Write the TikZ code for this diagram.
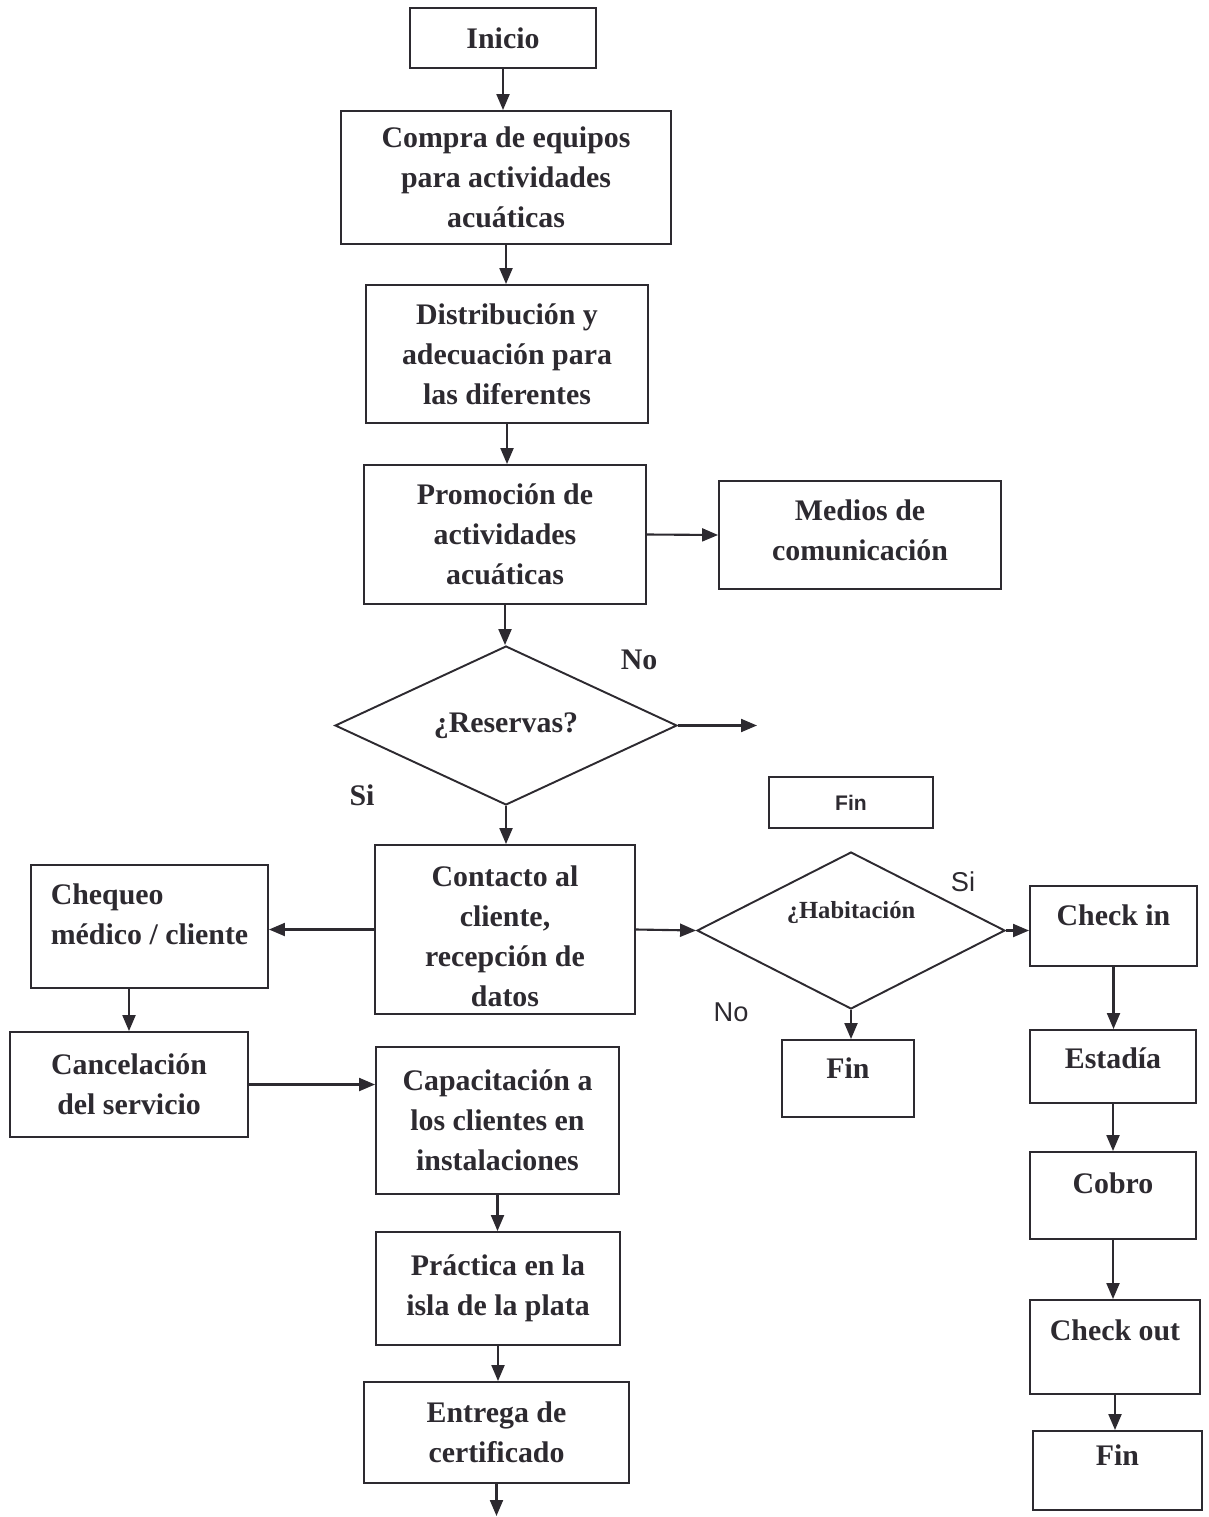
\documentclass[tikz,border=0pt]{standalone}
\usepackage{fontspec}
\setmainfont{Liberation Serif}
\setsansfont{Liberation Sans}
\usetikzlibrary{shapes.geometric,arrows.meta}
\definecolor{tinta}{RGB}{45,42,48}
\newcommand{\caja}[6][]{\node[caja, minimum width=#4, minimum height=#5, #1] (#2) at (#3) {#6};}
\newcommand{\flecha}[2]{\draw[flecha] (#1)--(#2);}

\begin{document}
\begin{tikzpicture}[x=0.02cm, y=-0.02cm,
  caja/.style={draw=tinta, line width=1.1pt, rectangle, align=center, inner sep=0pt,
    text=tinta, font=\bfseries\fontsize{17pt}{22.76pt}\selectfont},
  rombo/.style={caja, diamond},
  alto/.style={text height=0.4cm, text depth=#1},
  flecha/.style={draw=tinta, line width=1.2pt, -{Triangle[length=0.32cm,width=0.26cm]}},
  etq/.style={text=tinta, font=\bfseries\fontsize{17pt}{22.76pt}\selectfont},
  etqs/.style={text=tinta, font=\sffamily\fontsize{15.5pt}{18pt}\selectfont}]
  \useasboundingbox (0,0) rectangle (1209,1517);

  % Main column
  % -----------
  \caja{inicio}{503,38}{3.72cm}{1.2cm}{Inicio}
  \caja{compra}{506,177.5}{6.6cm}{2.66cm}{Compra de equipos\\para actividades\\acuáticas}
  \caja{distrib}{507,354}{5.64cm}{2.76cm}{Distribución y\\adecuación para\\las diferentes}
  \caja{promo}{505,534.5}{5.64cm}{2.78cm}{Promoción de\\actividades\\acuáticas}
  \caja{medios}{860,535}{5.64cm}{2.16cm}{Medios de\\comunicación\\[-0.6cm]\mbox{}}

  \node[rombo, aspect=2.15, minimum width=6.84cm, minimum height=3.18cm] (reservas) at (506,725.5) {¿Reservas?};
  \coordinate (noRes) at (757,725.5);
  \node[etq] (noA) at (639,660) {No};
  \node[etq] (siA) at (362,795) {Si};
  \caja[font=\sffamily\bfseries\fontsize{12pt}{14pt}\selectfont]{finA}{851,802.5}{3.28cm}{1.02cm}{Fin}

  \caja{contacto}{505,929.5}{5.2cm}{3.38cm}{\mbox{}\\[-0.12cm]Contacto al\\cliente,\\recepción de\\datos}
  \caja[align=left]{chequeo}{149.5,926.5}{4.74cm}{2.46cm}{Chequeo\\médico / cliente\\[-0.3cm]\mbox{}}
  \caja{cancel}{129,1084.5}{4.76cm}{2.1cm}{Cancelación\\del servicio}
  \caja{capac}{497.5,1120.5}{4.86cm}{2.94cm}{Capacitación a\\los clientes en\\instalaciones}
  \caja{practica}{498,1288.5}{4.88cm}{2.26cm}{Práctica en la\\isla de la plata}
  \caja{entrega}{496.5,1432.5}{5.3cm}{2.02cm}{Entrega de\\certificado}
  \coordinate (fuera) at (496.5,1516);

  % Habitacion
  % ----------
  \node[rombo, aspect=1.96, minimum width=6.16cm, minimum height=3.14cm,
    font=\bfseries\fontsize{14pt}{17pt}\selectfont, text height=0.36cm, text depth=0.86cm]
    (habit) at (851,930.5) {¿Habitación};
  \node[etqs] (siB) at (963,882) {Si};
  \node[etqs] (noB) at (731,1012) {No};
  \caja[alto=0.42cm]{finB}{848,1078.5}{2.64cm}{1.54cm}{Fin}

  % Right column
  % ------------
  \caja[alto=0.44cm]{checkin}{1113.5,926}{3.34cm}{1.6cm}{Check in}
  \caja[alto=0.34cm]{estadia}{1113,1066.5}{3.32cm}{1.46cm}{Estadía}
  \caja[alto=0.5cm]{cobro}{1113,1195.5}{3.32cm}{1.74cm}{Cobro}
  \caja[alto=0.68cm]{checkout}{1115,1347}{3.4cm}{1.88cm}{Check out}
  \caja[alto=0.62cm]{finC}{1117.5,1470.5}{3.38cm}{1.58cm}{Fin}

  % Arrows
  % ------
  \foreach \a/\b in {inicio/compra, compra/distrib, distrib/promo, promo/reservas,
                     reservas/contacto, capac/practica, practica/entrega,
                     checkin/estadia, estadia/cobro, cobro/checkout, checkout/finC}
    \draw[flecha] (\a.south) -- (\a.south |- \b.north);

  \flecha{promo.east}{medios.west}
  \flecha{reservas.east}{noRes}
  \flecha{contacto.west}{contacto.west -| chequeo.east}
  \flecha{chequeo.south -| cancel.north}{cancel.north}
  \flecha{cancel.east}{cancel.east -| capac.west}
  \flecha{entrega.south}{fuera}
  \flecha{contacto.east}{habit.west}
  \flecha{habit.east}{habit.east -| checkin.west}
  \flecha{habit.south}{habit.south |- finB.north}
\end{tikzpicture}
\end{document}
